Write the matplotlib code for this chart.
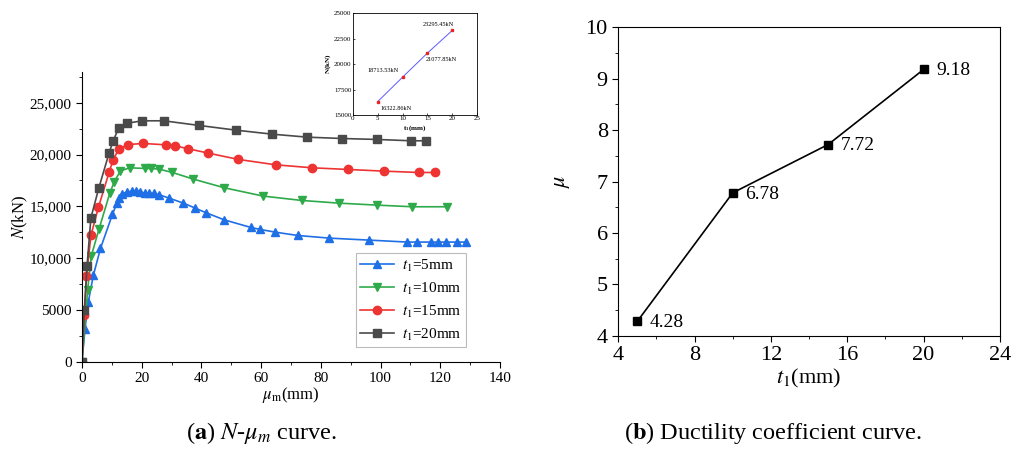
import matplotlib
matplotlib.use("Agg")
import matplotlib.pyplot as plt
from matplotlib.ticker import MultipleLocator

plt.rcParams['font.family'] = ['Liberation Serif', 'DejaVu Serif']
plt.rcParams['mathtext.fontset'] = 'stix'

# ---- Panel (a) data: N - mu_m curves ----
x_t5 = [0, 1.0, 2.1, 3.8, 6.2, 10.2, 11.7, 12.5, 13.4, 15.1, 16.7, 18.1, 19.5, 21.2, 22.6, 24.0,
        25.9, 29.2, 34.0, 37.9, 41.6, 47.6, 56.6, 59.7, 64.7, 72.2, 82.9, 96.2, 109.0, 112.1,
        116.8, 119.4, 121.9, 125.7, 128.6]
y_t5 = [0, 3120, 5730, 8330, 10940, 14220, 15310, 15760, 16180, 16410, 16440, 16470, 16410, 16250,
        16250, 16250, 16120, 15790, 15310, 14830, 14380, 13700, 12960, 12770, 12510, 12190, 11930,
        11740, 11550, 11550, 11550, 11550, 11550, 11550, 11550]

x_t10 = [0, 1.9, 3.1, 5.7, 9.3, 10.8, 12.9, 16.0, 21.2, 23.2, 25.9, 30.3, 37.3, 47.7, 60.7, 73.6,
         86.0, 98.7, 110.7, 122.2]
y_t10 = [0, 6920, 10200, 12800, 16250, 17370, 18430, 18720, 18660, 18660, 18590, 18270, 17630,
         16790, 15990, 15570, 15310, 15120, 14960, 14960]

x_t15 = [0, 0.8, 1.5, 3.0, 5.5, 9.1, 10.4, 12.3, 15.4, 20.6, 28.1, 31.1, 35.6, 42.3, 52.4, 64.9,
         77.2, 89.2, 101.1, 112.8, 118.4]
y_t15 = [0, 4500, 8240, 12190, 14900, 18300, 19460, 20520, 20970, 21070, 20940, 20850, 20560,
         20140, 19530, 19010, 18720, 18560, 18400, 18270, 18270]

x_t20 = [0, 0.8, 1.7, 3.0, 5.6, 9.1, 10.4, 12.3, 15.2, 20.2, 27.4, 39.3, 51.5, 63.7, 75.5, 87.2,
         98.7, 110.3, 115.2]
y_t20 = [0, 4990, 9265, 13900, 16730, 20170, 21300, 22550, 23030, 23260, 23260, 22810, 22360,
         21970, 21680, 21550, 21460, 21330, 21330]

series_labels = ['$t_1$=5mm', '$t_1$=10mm', '$t_1$=15mm', '$t_1$=20mm']
series_colors = ['#1f6fe6', '#2eaa4a', '#ee3333', '#4a4a4a']
series_markers = ['^', 'v', 'o', 's']

y_ticks_a = [0, 5000, 10000, 15000, 20000, 25000]
y_ticklabels_a = ['0', '5000', '10,000', '15,000', '20,000', '25,000']
x_ticks_a = [0, 20, 40, 60, 80, 100, 120, 140]

# ---- Inset data: peak loads ----
inset_t = [5, 10, 15, 20]
inset_N = [16322.86, 18713.53, 21077.85, 23295.45]
inset_labels = ['16322.86kN', '18713.53kN', '21077.85kN', '23295.45kN']

# ---- Panel (b) data: ductility coefficient ----
t1_vals = [5, 10, 15, 20]
mu_vals = [4.28, 6.78, 7.72, 9.18]
mu_labels = ['4.28', '6.78', '7.72', '9.18']

fig = plt.figure(figsize=(10.26, 4.51), dpi=100)

# ================= Panel (a) =================
ax = fig.add_axes([0.0799, 0.198, 0.4074, 0.643])
xs = [x_t5, x_t10, x_t15, x_t20]
ys = [y_t5, y_t10, y_t15, y_t20]
for x, y, lab, c, m in zip(xs, ys, series_labels, series_colors, series_markers):
    ax.plot(x, y, color=c, marker=m, markersize=6, linewidth=1.2, label=lab)
ax.set_xlim(0, 140)
ax.set_ylim(0, 28000)
ax.spines['top'].set_visible(False)
ax.spines['right'].set_visible(False)
ax.set_yticks(y_ticks_a)
ax.set_yticklabels(y_ticklabels_a)
ax.set_xticks(x_ticks_a)
ax.xaxis.set_minor_locator(MultipleLocator(10))
ax.yaxis.set_minor_locator(MultipleLocator(2500))
ax.tick_params(which='both', direction='out', labelsize=11)
ax.tick_params(which='major', length=4)
ax.tick_params(which='minor', length=2.5)
ax.set_ylabel('$N$(kN)', fontsize=12, labelpad=0)
ax.set_xlabel(r'$\mu_{\mathrm{m}}$(mm)', fontsize=12, labelpad=0)
leg = ax.legend(loc='lower left', bbox_to_anchor=(0.655, 0.05), fontsize=11, handlelength=2.2,
                frameon=True, fancybox=False, edgecolor='#aaaaaa', borderpad=0.3,
                labelspacing=0.45, handletextpad=0.5, borderaxespad=0)
leg.get_frame().set_linewidth(0.8)

# ---- Inset ----
axi = fig.add_axes([0.344, 0.745, 0.121, 0.226])
axi.plot(inset_t, inset_N, color='#5a5aff', linewidth=0.7)
axi.plot(inset_t, inset_N, linestyle='none', marker='s', markersize=2, color='#ee2222')
axi.set_xlim(0, 25)
axi.set_ylim(15000, 25000)
axi.set_xticks([0, 5, 10, 15, 20, 25])
axi.set_yticks([15000, 17500, 20000, 22500, 25000])
axi.tick_params(labelsize=5, length=1.5, width=0.5, pad=1, direction='in')
for s in axi.spines.values():
    s.set_linewidth(0.6)
offsets = [(2, -6), (-25, 4), (-1, -6), (-21, 3)]
for t, n, lab, off in zip(inset_t, inset_N, inset_labels, offsets):
    axi.annotate(lab, (t, n), xytext=off, textcoords='offset points', fontsize=4.5)
axi.set_ylabel('$\\mathbf{N}$(kN)', fontsize=5, fontweight='bold', labelpad=1)
axi.set_xlabel('$\\mathbf{t_1}$(mm)', fontsize=5, fontweight='bold', labelpad=1)

# ================= Panel (b) =================
bx = fig.add_axes([0.6026, 0.2557, 0.372, 0.6837])
bx.plot(t1_vals, mu_vals, color='black', marker='s', markersize=6, linewidth=1.2)
for t, m_, lab in zip(t1_vals, mu_vals, mu_labels):
    bx.annotate(lab, (t, m_), xytext=(9, -1), textcoords='offset points', fontsize=14, va='center')
bx.set_xlim(4, 24)
bx.set_ylim(4, 10)
bx.set_xticks([4, 8, 12, 16, 20, 24])
bx.set_yticks([4, 5, 6, 7, 8, 9, 10])
bx.xaxis.set_minor_locator(MultipleLocator(2))
bx.yaxis.set_minor_locator(MultipleLocator(0.5))
bx.tick_params(which='both', direction='out', labelsize=16)
bx.tick_params(which='major', length=4)
bx.tick_params(which='minor', length=2.5)
bx.set_xlabel('$t_1$(mm)', fontsize=16, labelpad=1)
bx.set_ylabel('$\\mu$', fontsize=16, labelpad=10)

# ================= Captions =================
fig.text(0.255, 0.04, r'($\mathbf{a}$) $N$-$\mu_m$ curve.', fontsize=17.5, ha='center', va='center')
fig.text(0.753, 0.04, r'($\mathbf{b}$) Ductility coefficient curve.', fontsize=17.5, ha='center', va='center')

fig.savefig('out.png', dpi=100)
